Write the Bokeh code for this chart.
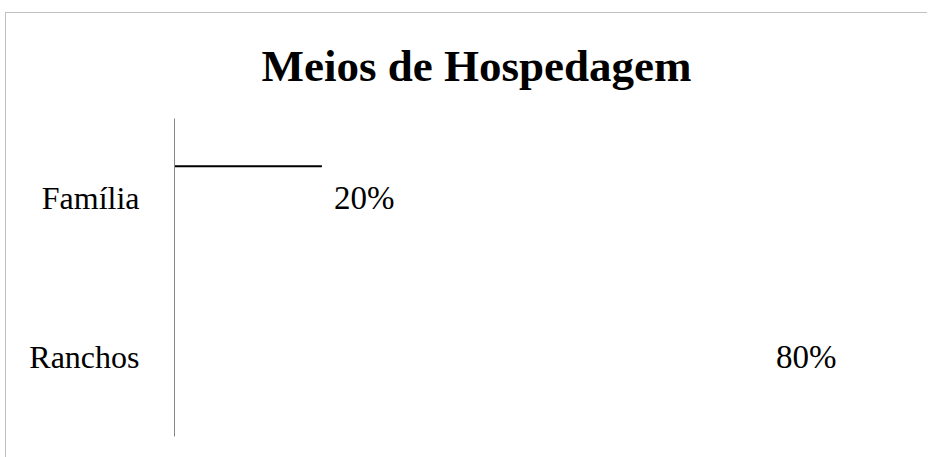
from bokeh.plotting import figure
from bokeh.models import Range1d, ColumnDataSource
from bokeh.transform import dodge
from bokeh.core.properties import value
from bokeh.embed import file_html
from bokeh.resources import INLINE

categories = ["Família", "Ranchos"]
shares = [0.20, 0.80]
share_labels = ["20%", "80%"]

FONT = "Liberation Serif"

src = ColumnDataSource(dict(cat=categories, share=shares, lab=share_labels, zero=[0, 0]))
edge = ColumnDataSource(dict(cat=categories[:1], share=shares[:1], zero=[0]))

p = figure(width=922, height=445, y_range=list(reversed(categories)),
           x_range=Range1d(0, 1.0), output_backend="svg", toolbar_location=None,
           min_border_left=168, min_border_right=17, min_border_top=105, min_border_bottom=22,
           title="Meios de Hospedagem")
p.styles = {"margin-top": "12px", "margin-left": "5px",
            "border-top": "1px solid #c0c0c0", "border-left": "1px solid #c0c0c0"}

p.title.text_font = FONT
p.title.text_font_size = "45px"
p.title.text_font_style = "bold"
p.title.align = "left"
p.title.offset = 87
p.title.text_color = "black"
p.title.vertical_align = "top"
p.title.standoff = 51

p.hbar(y="cat", left="zero", right="share", height=0.4, source=src,
       fill_color="white", line_color=None)
p.segment(x0="zero", x1="share", y0=dodge("cat", 0.2, range=p.y_range),
          y1=dodge("cat", 0.2, range=p.y_range), source=edge,
          line_color="black", line_width=2)
p.text(x="share", y="cat", text="lab", source=src, x_offset=12,
       text_baseline="middle", text_align="left", text_font=value(FONT),
       text_font_size="33px", text_color="black")

p.xaxis.visible = False
p.xgrid.visible = False
p.ygrid.visible = False
p.outline_line_color = None

ax = p.yaxis[0]
ax.axis_line_color = "#868686"
ax.axis_line_width = 1
ax.major_tick_line_color = None
ax.minor_tick_line_color = None
ax.major_label_standoff = 29
ax.major_label_text_font = FONT
ax.major_label_text_font_size = "32px"
ax.major_label_text_color = "black"

open("out.html", "w").write(file_html(p, INLINE))
